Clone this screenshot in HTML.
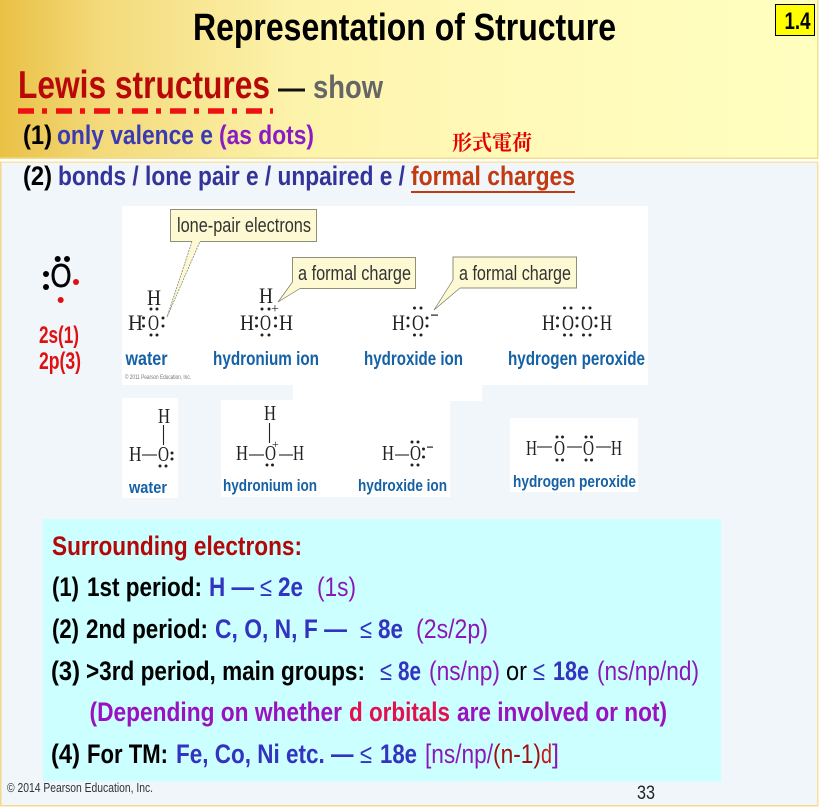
<!DOCTYPE html>
<html><head><meta charset="utf-8"><style>
html,body{margin:0;padding:0;background:#fff}
svg{display:block}
text{font-family:"Liberation Sans",sans-serif;white-space:pre}
.b{font-weight:bold}
.s{font-family:"Liberation Serif",serif;font-size:22.5px;fill:#222}
.s2{font-family:"Liberation Serif",serif;font-size:21px;fill:#222}
.c{font-size:20px;fill:#333}
.l{font-weight:bold;font-size:19px;fill:#1561a6}
.l2{font-weight:bold;font-size:17px;fill:#1561a6}
.t{font-size:27px;font-weight:bold}
.n{font-size:27px}
.k{fill:#000}.u{fill:#3333c0}.p{fill:#8a18b8}
.d{fill:#222}
</style></head><body>
<svg width="820" height="810" viewBox="0 0 820 810" xmlns="http://www.w3.org/2000/svg">
<defs><linearGradient id="g" x1="0" x2="1" y1="0" y2="0">
<stop offset="0" stop-color="#e9c144"/><stop offset=".12" stop-color="#f3d97a"/><stop offset=".36" stop-color="#fdf3ab"/><stop offset=".6" stop-color="#fff9b8"/><stop offset="1" stop-color="#ffffc0"/></linearGradient></defs>
<rect width="820" height="810" fill="#fff"/>
<rect x="0" y="0" width="818" height="158" fill="url(#g)"/>
<rect x="0" y="157.500" width="818" height="1.500" fill="#f2dc90"/>
<rect x="817" y="0" width="1.500" height="159" fill="#f3e08f"/>
<rect x="0" y="162" width="818" height="643.500" fill="#f0f6fa"/>
<rect x="0" y="161.500" width="818" height="1.500" fill="#f8e4a4"/>
<rect x="0" y="162" width="1.500" height="644" fill="#f6d88c"/>
<rect x="817" y="162" width="1.500" height="644" fill="#f6e09c"/>
<rect x="0" y="805" width="818.500" height="1.500" fill="#f8d88c"/>

<!-- header -->
<text class="b" x="193" y="40" font-size="38" textLength="423" lengthAdjust="spacingAndGlyphs">Representation of Structure</text>
<rect x="775.500" y="4.500" width="39" height="31" fill="#ff0" stroke="#000"/>
<text class="b" x="784.500" y="29" font-size="24" textLength="26" lengthAdjust="spacingAndGlyphs">1.4</text>
<text class="b" x="18" y="98" font-size="39" fill="#b80808" textLength="252" lengthAdjust="spacingAndGlyphs">Lewis structures</text>
<text class="b" x="278" y="98" font-size="30" fill="#111" textLength="27" lengthAdjust="spacingAndGlyphs">—</text>
<text class="b" x="313" y="98" font-size="32" fill="#666" textLength="70" lengthAdjust="spacingAndGlyphs">show</text>
<line x1="18" x2="273" y1="111" y2="111" stroke="#ee1111" stroke-width="5.500" stroke-dasharray="16 8 5 9"/>

<text class="b" x="23" y="144" font-size="27" fill="#000" textLength="29" lengthAdjust="spacingAndGlyphs">(1)</text>
<text class="b" x="57" y="144" font-size="27" fill="#3a3ab4" textLength="156" lengthAdjust="spacingAndGlyphs">only valence e</text>
<text class="b" x="219" y="144" font-size="27" fill="#8a1cc4" textLength="95" lengthAdjust="spacingAndGlyphs">(as dots)</text>
<text x="452" y="150" font-size="21" font-weight="bold" fill="#e80000" textLength="80" lengthAdjust="spacingAndGlyphs" style='font-family:"Noto Serif CJK SC","Noto Sans CJK TC",serif'>形式電荷</text>

<text class="b" x="23" y="185" font-size="27" fill="#000" textLength="29" lengthAdjust="spacingAndGlyphs">(2)</text>
<text class="b" x="58" y="185" font-size="27" fill="#33339a" textLength="347" lengthAdjust="spacingAndGlyphs">bonds / lone pair e / unpaired e /</text>
<text class="b" x="411" y="185" font-size="27" fill="#c23a10" textLength="164" lengthAdjust="spacingAndGlyphs">formal charges</text>
<rect x="411" y="191" width="164" height="2" fill="#c23a10"/>

<!-- atom -->
<text x="50.500" y="287" font-size="33" fill="#000" stroke="#000" stroke-width=".6" textLength="21" lengthAdjust="spacingAndGlyphs">O</text>
<g fill="#000"><circle cx="57.700" cy="259" r="3"/><circle cx="67" cy="259" r="3"/><circle cx="46" cy="274" r="3"/><circle cx="46" cy="287" r="3"/></g>
<g fill="#e01010"><circle cx="76" cy="282" r="3"/><circle cx="60.700" cy="300" r="3"/></g>
<text class="b" x="39" y="343" font-size="24" fill="#e01010" textLength="40" lengthAdjust="spacingAndGlyphs">2s(1)</text>
<text class="b" x="39" y="369" font-size="24" fill="#e01010" textLength="42" lengthAdjust="spacingAndGlyphs">2p(3)</text>

<!-- white images -->
<rect x="122" y="206" width="526" height="179" fill="#fff"/>
<rect x="293" y="385" width="189" height="16" fill="#fff"/>
<rect x="122" y="398" width="56" height="100" fill="#fff"/>
<rect x="221" y="400" width="229" height="97" fill="#fff"/>
<rect x="510" y="418" width="128" height="74" fill="#fff"/>

<!-- callouts: fills -->
<g fill="#fdf9d2">
<path d="M170.500 209.500H316.500V241.500H200L167 317L192 241.500H170.500Z"/>
<path d="M292.500 257.500H415.500V288.500H300L278 302L292.500 282Z"/>
<path d="M453 257H576.500V288H460L434 310L453 280Z"/>
</g>
<!-- callouts: box borders, open where the tail joins -->
<g fill="none" stroke="#8f8f7a" stroke-width="1">
<path d="M192 241.500H170.500V209.500H316.500V241.500H200"/>
<path d="M292.500 282V257.500H415.500V288.500H300"/>
<path d="M453 280V257H576.500V288H460"/>
</g>
<!-- callouts: thin tail edges -->
<g fill="none" stroke="#77776a" stroke-width=".7">
<path d="M192 241.500L167 317L200 241.500" stroke-dasharray="2 1"/>
<path d="M292.500 282L278 302L300 288.500"/>
<path d="M453 280L434 310L460 288"/>
</g>
<text class="c" x="177" y="232" textLength="134" lengthAdjust="spacingAndGlyphs">lone-pair electrons</text>
<text class="c" x="298" y="280" textLength="113" lengthAdjust="spacingAndGlyphs">a formal charge</text>
<text class="c" x="459" y="280" textLength="112" lengthAdjust="spacingAndGlyphs">a formal charge</text>

<!-- row 1 -->
<g class="row1">
<text class="s" x="147" y="305" textLength="14" lengthAdjust="spacingAndGlyphs">H</text>
<text class="s" x="128" y="330" textLength="15" lengthAdjust="spacingAndGlyphs">H</text>
<text class="s" x="148" y="330" textLength="11" lengthAdjust="spacingAndGlyphs">O</text>
<text class="s" x="259" y="303" textLength="14" lengthAdjust="spacingAndGlyphs">H</text>
<text class="s" x="240" y="330" textLength="14" lengthAdjust="spacingAndGlyphs">H</text>
<text class="s" x="260" y="330" textLength="11" lengthAdjust="spacingAndGlyphs">O</text>
<text class="s" x="279" y="330" textLength="14" lengthAdjust="spacingAndGlyphs">H</text>
<text x="271" y="313" font-size="14" fill="#222" style='font-family:"Liberation Serif",serif'>+</text>
<text class="s" x="392" y="330" textLength="13" lengthAdjust="spacingAndGlyphs">H</text>
<text class="s" x="412" y="330" textLength="12" lengthAdjust="spacingAndGlyphs">O</text>
<rect x="431" y="314.500" width="7" height="1.200" fill="#222"/>
<text class="s" x="542" y="330" textLength="13" lengthAdjust="spacingAndGlyphs">H</text>
<text class="s" x="562" y="330" textLength="12" lengthAdjust="spacingAndGlyphs">O</text>
<text class="s" x="581" y="330" textLength="12" lengthAdjust="spacingAndGlyphs">O</text>
<text class="s" x="600" y="330" textLength="12" lengthAdjust="spacingAndGlyphs">H</text>
<g class="d">
<circle cx="143.500" cy="318" r="1.500"/><circle cx="143.500" cy="326" r="1.500"/><circle cx="163" cy="318" r="1.500"/><circle cx="163" cy="326" r="1.500"/><circle cx="151" cy="309" r="1.500"/><circle cx="157" cy="309" r="1.500"/><circle cx="151" cy="335" r="1.500"/><circle cx="157" cy="335" r="1.500"/>
<circle cx="256.500" cy="318" r="1.500"/><circle cx="256.500" cy="326" r="1.500"/><circle cx="275.500" cy="318" r="1.500"/><circle cx="275.500" cy="326" r="1.500"/><circle cx="262" cy="309" r="1.500"/><circle cx="269" cy="309" r="1.500"/><circle cx="262" cy="335" r="1.500"/><circle cx="269" cy="335" r="1.500"/>
<circle cx="408" cy="318" r="1.500"/><circle cx="408" cy="326" r="1.500"/><circle cx="427" cy="318" r="1.500"/><circle cx="427" cy="326" r="1.500"/><circle cx="414.500" cy="308" r="1.500"/><circle cx="421" cy="308" r="1.500"/><circle cx="414.500" cy="335" r="1.500"/><circle cx="421" cy="335" r="1.500"/>
<circle cx="557.500" cy="318" r="1.500"/><circle cx="557.500" cy="326" r="1.500"/><circle cx="577" cy="318" r="1.500"/><circle cx="577" cy="326" r="1.500"/><circle cx="596" cy="318" r="1.500"/><circle cx="596" cy="326" r="1.500"/>
<circle cx="564.500" cy="308" r="1.500"/><circle cx="571" cy="308" r="1.500"/><circle cx="583.500" cy="308" r="1.500"/><circle cx="590" cy="308" r="1.500"/><circle cx="564.500" cy="335" r="1.500"/><circle cx="571" cy="335" r="1.500"/><circle cx="583.500" cy="335" r="1.500"/><circle cx="590" cy="335" r="1.500"/>
</g>
</g>
<text class="l" x="125.500" y="365" textLength="42" lengthAdjust="spacingAndGlyphs">water</text>
<text class="l" x="213" y="365" textLength="106" lengthAdjust="spacingAndGlyphs">hydronium ion</text>
<text class="l" x="364" y="365" textLength="99" lengthAdjust="spacingAndGlyphs">hydroxide ion</text>
<text class="l" x="508" y="365" textLength="137" lengthAdjust="spacingAndGlyphs">hydrogen peroxide</text>
<text x="125" y="379" font-size="6" fill="#777" textLength="66" lengthAdjust="spacingAndGlyphs">© 2011 Pearson Education, Inc.</text>

<!-- row 2 -->
<g stroke="#222" stroke-width="1.100">
<line x1="163.500" x2="163.500" y1="425" y2="445"/><line x1="142" x2="157" y1="455" y2="455"/>
<line x1="269.500" x2="269.500" y1="423" y2="443"/><line x1="249" x2="264" y1="455" y2="455"/><line x1="279" x2="293" y1="455" y2="455"/>
<line x1="395" x2="409" y1="455" y2="455"/>
<line x1="537" x2="552" y1="447" y2="447"/><line x1="567" x2="582" y1="447" y2="447"/><line x1="596" x2="611" y1="447" y2="447"/>
</g>
<text class="s2" x="158" y="423" textLength="12" lengthAdjust="spacingAndGlyphs">H</text>
<text class="s2" x="129" y="461" textLength="12.500" lengthAdjust="spacingAndGlyphs">H</text>
<text class="s2" x="158" y="461" textLength="11" lengthAdjust="spacingAndGlyphs">O</text>
<text class="s2" x="264" y="420" textLength="12" lengthAdjust="spacingAndGlyphs">H</text>
<text class="s2" x="236" y="460" textLength="12" lengthAdjust="spacingAndGlyphs">H</text>
<text class="s2" x="265" y="460" textLength="11" lengthAdjust="spacingAndGlyphs">O</text>
<text class="s2" x="293" y="460" textLength="11" lengthAdjust="spacingAndGlyphs">H</text>
<text x="272" y="448" font-size="12" fill="#222" style='font-family:"Liberation Serif",serif'>+</text>
<text class="s2" x="382" y="460" textLength="12" lengthAdjust="spacingAndGlyphs">H</text>
<text class="s2" x="410" y="460" textLength="11" lengthAdjust="spacingAndGlyphs">O</text>
<rect x="427" y="446.500" width="6" height="1.200" fill="#222"/>
<text class="s2" x="526" y="455" textLength="11" lengthAdjust="spacingAndGlyphs">H</text>
<text class="s2" x="554" y="455" textLength="11" lengthAdjust="spacingAndGlyphs">O</text>
<text class="s2" x="583" y="455" textLength="11" lengthAdjust="spacingAndGlyphs">O</text>
<text class="s2" x="611" y="455" textLength="11" lengthAdjust="spacingAndGlyphs">H</text>
<g class="d">
<circle cx="172" cy="453" r="1.500"/><circle cx="172" cy="459" r="1.500"/><circle cx="160" cy="466" r="1.500"/><circle cx="166" cy="466" r="1.500"/>
<circle cx="267" cy="465" r="1.500"/><circle cx="272.500" cy="465" r="1.500"/>
<circle cx="412" cy="442" r="1.500"/><circle cx="418" cy="442" r="1.500"/><circle cx="412" cy="465" r="1.500"/><circle cx="418" cy="465" r="1.500"/><circle cx="423.500" cy="449" r="1.500"/><circle cx="423.500" cy="457" r="1.500"/>
<circle cx="557" cy="437" r="1.500"/><circle cx="562.500" cy="437" r="1.500"/><circle cx="557" cy="460" r="1.500"/><circle cx="562.500" cy="460" r="1.500"/>
<circle cx="586" cy="437" r="1.500"/><circle cx="591.500" cy="437" r="1.500"/><circle cx="586" cy="460" r="1.500"/><circle cx="591.500" cy="460" r="1.500"/>
</g>
<text class="l2" x="129" y="493" textLength="38" lengthAdjust="spacingAndGlyphs">water</text>
<text class="l2" x="223" y="491" textLength="94" lengthAdjust="spacingAndGlyphs">hydronium ion</text>
<text class="l2" x="358" y="491" textLength="89" lengthAdjust="spacingAndGlyphs">hydroxide ion</text>
<text class="l2" x="513" y="487" textLength="123" lengthAdjust="spacingAndGlyphs">hydrogen peroxide</text>

<!-- cyan panel -->
<rect x="43" y="519" width="678" height="262.500" fill="#ccffff"/>
<text class="t" x="52" y="555" fill="#b40808" textLength="250" lengthAdjust="spacingAndGlyphs">Surrounding electrons:</text>

<text class="t k" x="52" y="596" textLength="27" lengthAdjust="spacingAndGlyphs">(1)</text>
<text class="t k" x="87" y="596" textLength="115" lengthAdjust="spacingAndGlyphs">1st period:</text>
<text class="t u" x="209" y="596" textLength="45" lengthAdjust="spacingAndGlyphs">H —</text>
<text class="n u" x="260" y="596" textLength="12" lengthAdjust="spacingAndGlyphs">≤</text>
<text class="t u" x="278" y="596" textLength="25" lengthAdjust="spacingAndGlyphs">2e</text>
<text class="n p" x="317" y="596" textLength="39" lengthAdjust="spacingAndGlyphs">(1s)</text>

<text class="t k" x="52" y="638" textLength="27" lengthAdjust="spacingAndGlyphs">(2)</text>
<text class="t k" x="86" y="638" textLength="122" lengthAdjust="spacingAndGlyphs">2nd period:</text>
<text class="t u" x="215" y="638" textLength="132" lengthAdjust="spacingAndGlyphs">C, O, N, F —</text>
<text class="n u" x="360" y="638" textLength="12" lengthAdjust="spacingAndGlyphs">≤</text>
<text class="t u" x="378" y="638" textLength="25" lengthAdjust="spacingAndGlyphs">8e</text>
<text class="n p" x="416" y="638" textLength="72" lengthAdjust="spacingAndGlyphs">(2s/2p)</text>

<text class="t k" x="51" y="680" textLength="29" lengthAdjust="spacingAndGlyphs">(3)</text>
<text class="t k" x="86" y="680" textLength="279" lengthAdjust="spacingAndGlyphs">&gt;3rd period, main groups:</text>
<text class="n u" x="380" y="680" textLength="12" lengthAdjust="spacingAndGlyphs">≤</text>
<text class="t u" x="398" y="680" textLength="23" lengthAdjust="spacingAndGlyphs">8e</text>
<text class="n p" x="429" y="680" textLength="71" lengthAdjust="spacingAndGlyphs">(ns/np)</text>
<text class="n k" x="506" y="680" textLength="21" lengthAdjust="spacingAndGlyphs">or</text>
<text class="n u" x="533" y="680" textLength="12" lengthAdjust="spacingAndGlyphs">≤</text>
<text class="t u" x="553" y="680" textLength="36" lengthAdjust="spacingAndGlyphs">18e</text>
<text class="n p" x="597" y="680" textLength="102" lengthAdjust="spacingAndGlyphs">(ns/np/nd)</text>

<text class="t" x="89.500" y="721" fill="#9a12c0" textLength="252.500" lengthAdjust="spacingAndGlyphs">(Depending on whether</text>
<text class="t" x="349" y="721" fill="#e2104e" textLength="101" lengthAdjust="spacingAndGlyphs">d orbitals</text>
<text class="t" x="457" y="721" fill="#9a12c0" textLength="210" lengthAdjust="spacingAndGlyphs">are involved or not)</text>

<text class="t k" x="51" y="763" textLength="29" lengthAdjust="spacingAndGlyphs">(4)</text>
<text class="t k" x="87" y="763" textLength="81" lengthAdjust="spacingAndGlyphs">For TM:</text>
<text class="t u" x="176" y="763" textLength="177.500" lengthAdjust="spacingAndGlyphs">Fe, Co, Ni etc. —</text>
<text class="n u" x="360" y="763" textLength="12" lengthAdjust="spacingAndGlyphs">≤</text>
<text class="t u" x="380" y="763" textLength="37" lengthAdjust="spacingAndGlyphs">18e</text>
<text class="n p" x="425" y="763" textLength="68" lengthAdjust="spacingAndGlyphs">[ns/np/</text>
<text class="n" x="493" y="763" fill="#a01010" textLength="48" lengthAdjust="spacingAndGlyphs">(n-1)</text>
<text class="n" x="541" y="763" fill="#c81818" textLength="11" lengthAdjust="spacingAndGlyphs">d</text>
<text class="n p" x="552" y="763" textLength="7" lengthAdjust="spacingAndGlyphs">]</text>

<!-- footer -->
<text x="7" y="792" font-size="13" fill="#333" textLength="146" lengthAdjust="spacingAndGlyphs">© 2014 Pearson Education, Inc.</text>
<text x="637" y="799" font-size="19" fill="#222" textLength="18" lengthAdjust="spacingAndGlyphs">33</text>
</svg>
</body></html>
